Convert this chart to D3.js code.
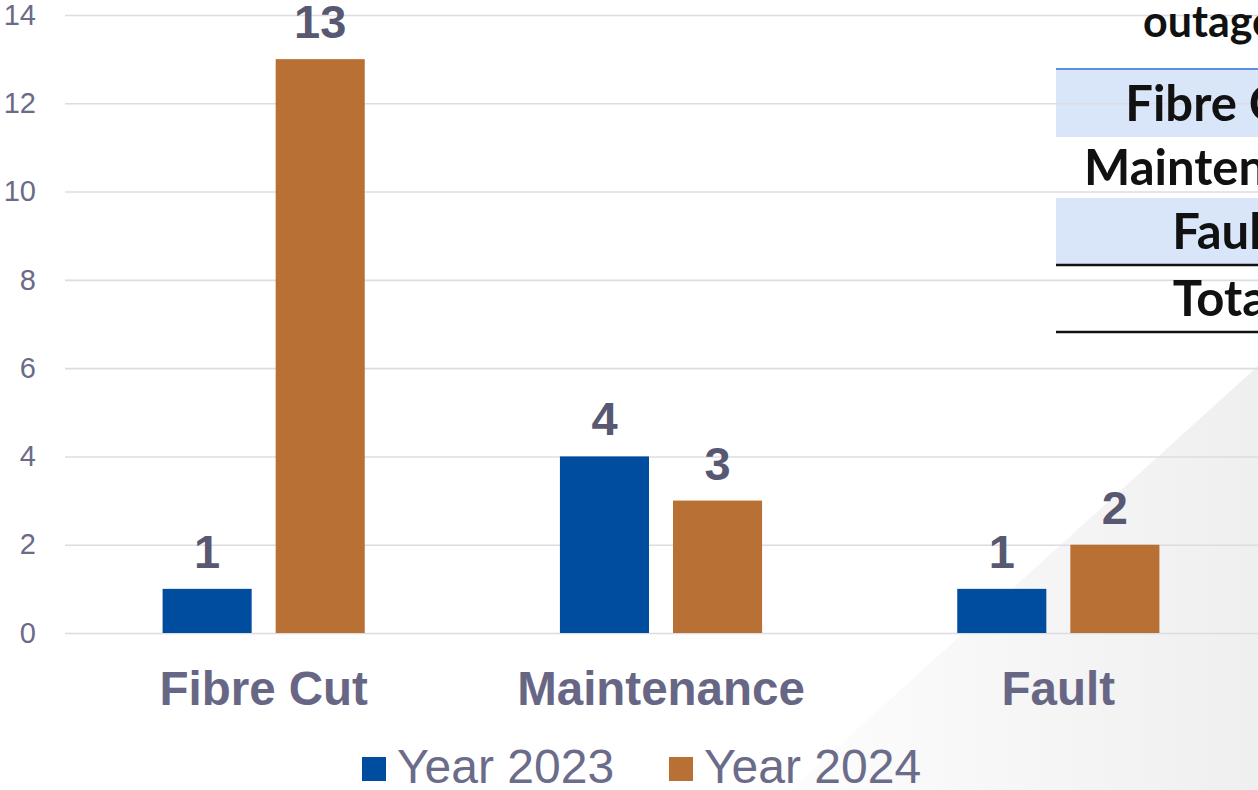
<!DOCTYPE html>
<html>
<head>
<meta charset="utf-8">
<script src="https://cdn.jsdelivr.net/npm/d3@7"></script>
<style>
  html, body { margin: 0; padding: 0; background: #fff; overflow: hidden; }
  svg { display: block; font-family: "Liberation Sans", Arial, sans-serif; }
</style>
</head>
<body>
<div id="chart"></div>
<script>
// data
var categories = ["Fibre Cut", "Maintenance", "Fault"];
var seriesNames = ["Year 2023", "Year 2024"];
var year2023 = [1, 4, 1];
var year2024 = [13, 3, 2];
var yTicks = [0, 2, 4, 6, 8, 10, 12, 14];
var tableHeader = "outages";
var tableRows = ["Fibre Cut", "Maintenance", "Fault", "Total"];

var width = 1258, height = 790;
var margin = {top: 15, right: 1, bottom: 157, left: 65};
var colors = ["#004da0", "#b97034"];

var svg = d3.select('#chart').append('svg')
    .attr('width', width)
    .attr('height', height);

// grey corner shape in the background
var defs = svg.append('defs');
var grad = defs.append('linearGradient')
    .attr('id', 'cornerGrad')
    .attr('x1', '0%').attr('x2', '100%')
    .attr('y1', '0%').attr('y2', '0%');
grad.append('stop').attr('offset', '0%').attr('stop-color', '#fdfdfd');
grad.append('stop').attr('offset', '100%').attr('stop-color', '#efefef');

svg.append('path')
    .attr('d', 'M790,790 L1258,366 L1258,790 Z')
    .attr('fill', 'url(#cornerGrad)');

// table behind the chart (cut off at the right edge)
var rowH = [67, 61, 67, 67];
var rowTop = [70, 137, 198, 265];

var table = svg.append('g').attr('class', 'table');
table.selectAll('rect.row')
    .data(tableRows)
    .enter().append('rect')
    .attr('class', 'row')
    .attr('x', 1056)
    .attr('y', function (d, i) { return rowTop[i]; })
    .attr('width', width - 1056)
    .attr('height', function (d, i) { return rowH[i]; })
    .attr('fill', function (d, i) { return (i === 0 || i === 2) ? '#d9e6fa' : 'none'; });

table.append('line')
    .attr('x1', 1056).attr('x2', width)
    .attr('y1', 69).attr('y2', 69)
    .attr('stroke', '#5b8fe0').attr('stroke-width', 2);
table.selectAll('line.rule')
    .data([265, 332])
    .enter().append('line')
    .attr('class', 'rule')
    .attr('x1', 1056).attr('x2', width)
    .attr('y1', function (d) { return d; })
    .attr('y2', function (d) { return d; })
    .attr('stroke', '#111').attr('stroke-width', 2.5);

// scales
var x0 = d3.scaleBand()
    .domain(categories)
    .range([margin.left, width - margin.right])
    .paddingInner(0)
    .paddingOuter(0);

var x1 = d3.scaleBand()
    .domain(seriesNames)
    .range([0, x0.bandwidth()])
    .paddingInner(0.2124)
    .paddingOuter(0.863);

var y = d3.scaleLinear()
    .domain([0, 14])
    .range([height - margin.bottom, margin.top]);

// grid + y tick labels
var yAxis = svg.append('g')
    .attr('class', 'y axis')
    .attr('transform', 'translate(' + margin.left + ',0)')
    .call(d3.axisLeft(y)
        .tickValues(yTicks)
        .tickSize(-(width - margin.left))
        .tickPadding(29));
yAxis.select('.domain').remove();
yAxis.selectAll('line')
    .attr('stroke', '#dcdce3')
    .attr('stroke-width', 1.6);
yAxis.selectAll('text')
    .attr('fill', '#6b6b88')
    .style('font-size', '29px')
    .style('font-family', '"Liberation Sans", Arial, sans-serif');

// table texts sit above the grid
var tableText = svg.append('g').attr('class', 'table-text');
tableText.append('text')
    .attr('x', 1143)
    .attr('y', 37)
    .style('font-family', 'Lato, "Open Sans", sans-serif')
    .style('font-weight', 700)
    .style('font-size', '43px')
    .attr('fill', '#111')
    .text(tableHeader);

tableText.selectAll('text.cell')
    .data(tableRows)
    .enter().append('text')
    .attr('class', 'cell')
    .attr('x', 1226)
    .attr('y', function (d, i) { return rowTop[i] + rowH[i] / 2; })
    .attr('dy', '0.36em')
    .attr('text-anchor', 'middle')
    .style('font-family', 'Lato, "Open Sans", sans-serif')
    .style('font-weight', 700)
    .style('font-size', '49px')
    .attr('fill', '#111')
    .text(function (d) { return d; });

// bars
var data = categories.map(function (c, i) {
    return {category: c, values: [
        {key: seriesNames[0], value: year2023[i]},
        {key: seriesNames[1], value: year2024[i]}
    ]};
});

var groups = svg.selectAll('g.group')
    .data(data)
    .enter().append('g')
    .attr('class', 'group')
    .attr('transform', function (d) { return 'translate(' + x0(d.category) + ',0)'; });

groups.selectAll('rect')
    .data(function (d) { return d.values; })
    .enter().append('rect')
    .attr('x', function (d) { return x1(d.key); })
    .attr('y', function (d) { return y(d.value); })
    .attr('width', x1.bandwidth())
    .attr('height', function (d) { return y(0) - y(d.value); })
    .attr('fill', function (d, i) { return colors[i]; });

groups.selectAll('text.value')
    .data(function (d) { return d.values; })
    .enter().append('text')
    .attr('class', 'value')
    .attr('x', function (d) { return x1(d.key) + x1.bandwidth() / 2; })
    .attr('y', function (d) { return y(d.value) - 21; })
    .attr('text-anchor', 'middle')
    .attr('fill', '#585872')
    .style('font-weight', 'bold')
    .style('font-size', '47px')
    .text(function (d) { return d.value; });

// category labels
svg.selectAll('text.category')
    .data(categories)
    .enter().append('text')
    .attr('class', 'category')
    .attr('x', function (d) { return x0(d) + x0.bandwidth() / 2; })
    .attr('y', 705)
    .attr('text-anchor', 'middle')
    .attr('fill', '#676785')
    .style('font-weight', 'bold')
    .style('font-size', '47.5px')
    .text(function (d) { return d; });

// legend
var legendX = [362, 669];
var legend = svg.selectAll('g.legend')
    .data(seriesNames)
    .enter().append('g')
    .attr('class', 'legend')
    .attr('transform', function (d, i) { return 'translate(' + legendX[i] + ',757)'; });

legend.append('rect')
    .attr('width', 24)
    .attr('height', 24)
    .attr('fill', function (d, i) { return colors[i]; });

legend.append('text')
    .attr('x', 35)
    .attr('y', 26)
    .attr('fill', '#6b6b8a')
    .style('font-size', '48px')
    .text(function (d) { return d; });
</script>
</body>
</html>
